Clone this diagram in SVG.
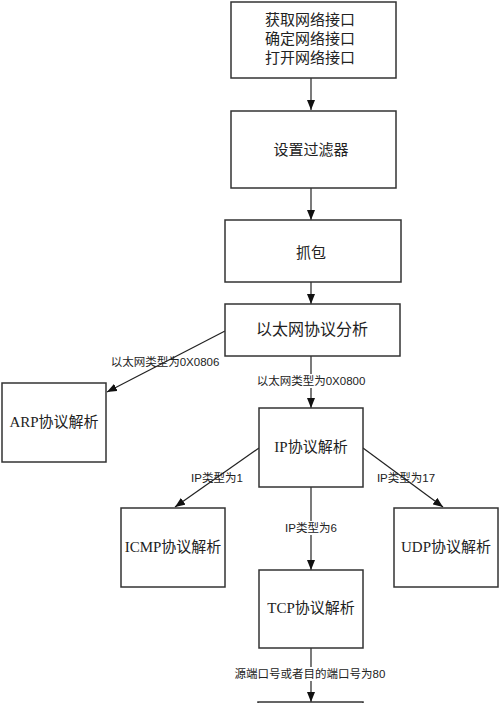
<svg xmlns="http://www.w3.org/2000/svg" width="500" height="703" viewBox="0 0 500 703">
<style>
.box{fill:#fff;stroke:#333;stroke-width:1.5}
.t{font-family:"Liberation Serif","Noto Sans CJK SC",serif;font-size:15px;fill:#222;text-anchor:middle;dominant-baseline:central}
.l{font-family:"Liberation Sans","Noto Sans CJK SC",sans-serif;font-size:11.5px;fill:#222;text-anchor:middle;dominant-baseline:central}
.c{stroke:#222;stroke-width:1.2;fill:none;marker-end:url(#ah)}
.bg{fill:#fff}
</style>
<defs>
<marker id="ah" viewBox="0 0 10 8" refX="10" refY="4" markerWidth="10" markerHeight="8" markerUnits="userSpaceOnUse" orient="auto">
<path d="M0,0 L10,4 L0,8 Z" fill="#111"/>
</marker>
</defs>
<rect width="500" height="703" fill="#fff"/>
<g id="connectors">
<line class="c" x1="311" y1="78" x2="311" y2="110"/>
<line class="c" x1="311" y1="188" x2="311" y2="220"/>
<line class="c" x1="311" y1="282" x2="311" y2="304"/>
<line class="c" x1="225" y1="331" x2="107" y2="392"/>
<line class="c" x1="311" y1="356" x2="311" y2="408"/>
<line class="c" x1="259" y1="448" x2="175" y2="507"/>
<line class="c" x1="363" y1="448" x2="443" y2="507"/>
<line class="c" x1="311" y1="487" x2="311" y2="570"/>
<line class="c" x1="311" y1="648" x2="311" y2="702"/>
<text class="l" x="165" y="362">以太网类型为0X0806</text>
<rect class="bg" x="257" y="374" width="108" height="14"/>
<text class="l" x="311" y="381">以太网类型为0X0800</text>
<text class="l" x="217" y="478">IP类型为1</text>
<text class="l" x="406" y="478">IP类型为17</text>
<rect class="bg" x="283" y="521" width="56" height="14"/>
<text class="l" x="311" y="528">IP类型为6</text>
<rect class="bg" x="231" y="667" width="160" height="14"/>
<text class="l" x="310" y="674">源端口号或者目的端口号为80</text>
</g>
<g id="n1"><rect class="box" x="231" y="2" width="165" height="76"/>
<text class="t" x="310" y="20">获取网络接口</text>
<text class="t" x="310" y="39">确定网络接口</text>
<text class="t" x="310" y="58">打开网络接口</text></g>
<g id="n2"><rect class="box" x="231" y="111" width="165" height="77"/><text class="t" x="311" y="150">设置过滤器</text></g>
<g id="n3"><rect class="box" x="225" y="220" width="176" height="62"/><text class="t" x="311" y="253">抓包</text></g>
<g id="n4"><rect class="box" x="225" y="304" width="175" height="52"/><text class="t" x="312" y="329" style="font-size:16px">以太网协议分析</text></g>
<g id="n5"><rect class="box" x="2" y="383" width="104" height="79"/><text class="t" x="54" y="422">ARP协议解析</text></g>
<g id="n6"><rect class="box" x="259" y="408" width="104" height="79"/><text class="t" x="311" y="447">IP协议解析</text></g>
<g id="n7"><rect class="box" x="121" y="508" width="104" height="79"/><text class="t" x="173" y="547">ICMP协议解析</text></g>
<g id="n8"><rect class="box" x="394" y="508" width="104" height="79"/><text class="t" x="446" y="547">UDP协议解析</text></g>
<g id="n9"><rect class="box" x="259" y="570" width="104" height="78"/><text class="t" x="311" y="608">TCP协议解析</text></g>
<g id="n10"><rect class="box" x="258" y="702" width="105" height="10"/></g>
</svg>
